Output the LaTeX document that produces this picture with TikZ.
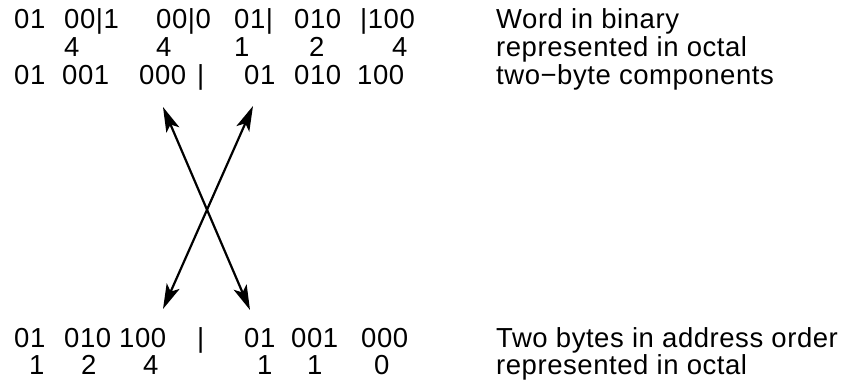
\documentclass[tikz,border=0pt]{standalone}
\usepackage{fontspec}
\setmainfont{Liberation Sans}[LetterSpace=2]
\usetikzlibrary{arrows.meta}
\begin{document}
\begin{tikzpicture}[x=1pt,y=-1pt,
    word/.style={anchor=base west,inner sep=0pt,text height=0.72em,text depth=0.2em,
        font=\fontsize{27.5}{28}\selectfont},
    swap/.style={line width=2.2pt,{Stealth[length=25pt,width=14pt,inset=6pt]}-{Stealth[length=25pt,width=14pt,inset=6pt]}}]
    \useasboundingbox (0,0) rectangle (850,380);
    % WORD IN BINARY
    \foreach \t/\x [count=\i] in {01/14,00|1/64,00|0/156,01|/234,010/294,|100/360}
        \node[word] (bin-\i) at (\x,28) {\t};
    \foreach \t/\x [count=\i] in {4/64,4/156,1/234,2/309,4/392}
        \node[word] (oct-\i) at (\x,56) {\t};
    \foreach \t/\x [count=\i] in {01/14,001/62,000/139,|/197,01/244,010/294,100/357}
        \node[word] (part-\i) at (\x,84) {\t};

    % BYTES IN ADDRESS ORDER
    \foreach \t/\x [count=\i] in {01/14,010/64,100/119,|/197,01/244,001/291,000/361}
        \node[word] (addr-\i) at (\x,347) {\t};
    \foreach \t/\x [count=\i] in {1/29,2/81,4/143,1/257,1/307,0/374}
        \node[word] (aoct-\i) at (\x,374) {\t};

    % NOTES
    \node[word] (note-1) at (496,28) {Word in binary};
    \node[word] (note-2) at (496,56) {represented in octal};
    \node[word] (note-3) at (496,84) {two−byte components};
    \node[word] (note-4) at (496,347) {Two bytes in address order};
    \node[word] (note-5) at (496,374) {represented in octal};

    % SWAPPED BYTES
    \coordinate (hi-top) at (163,107);
    \coordinate (lo-top) at (253,106);
    \coordinate (hi-bot) at (250,310);
    \coordinate (lo-bot) at (163,309);
    \draw[swap] (hi-top) -- (hi-bot);
    \draw[swap] (lo-top) -- (lo-bot);
\end{tikzpicture}
\end{document}
